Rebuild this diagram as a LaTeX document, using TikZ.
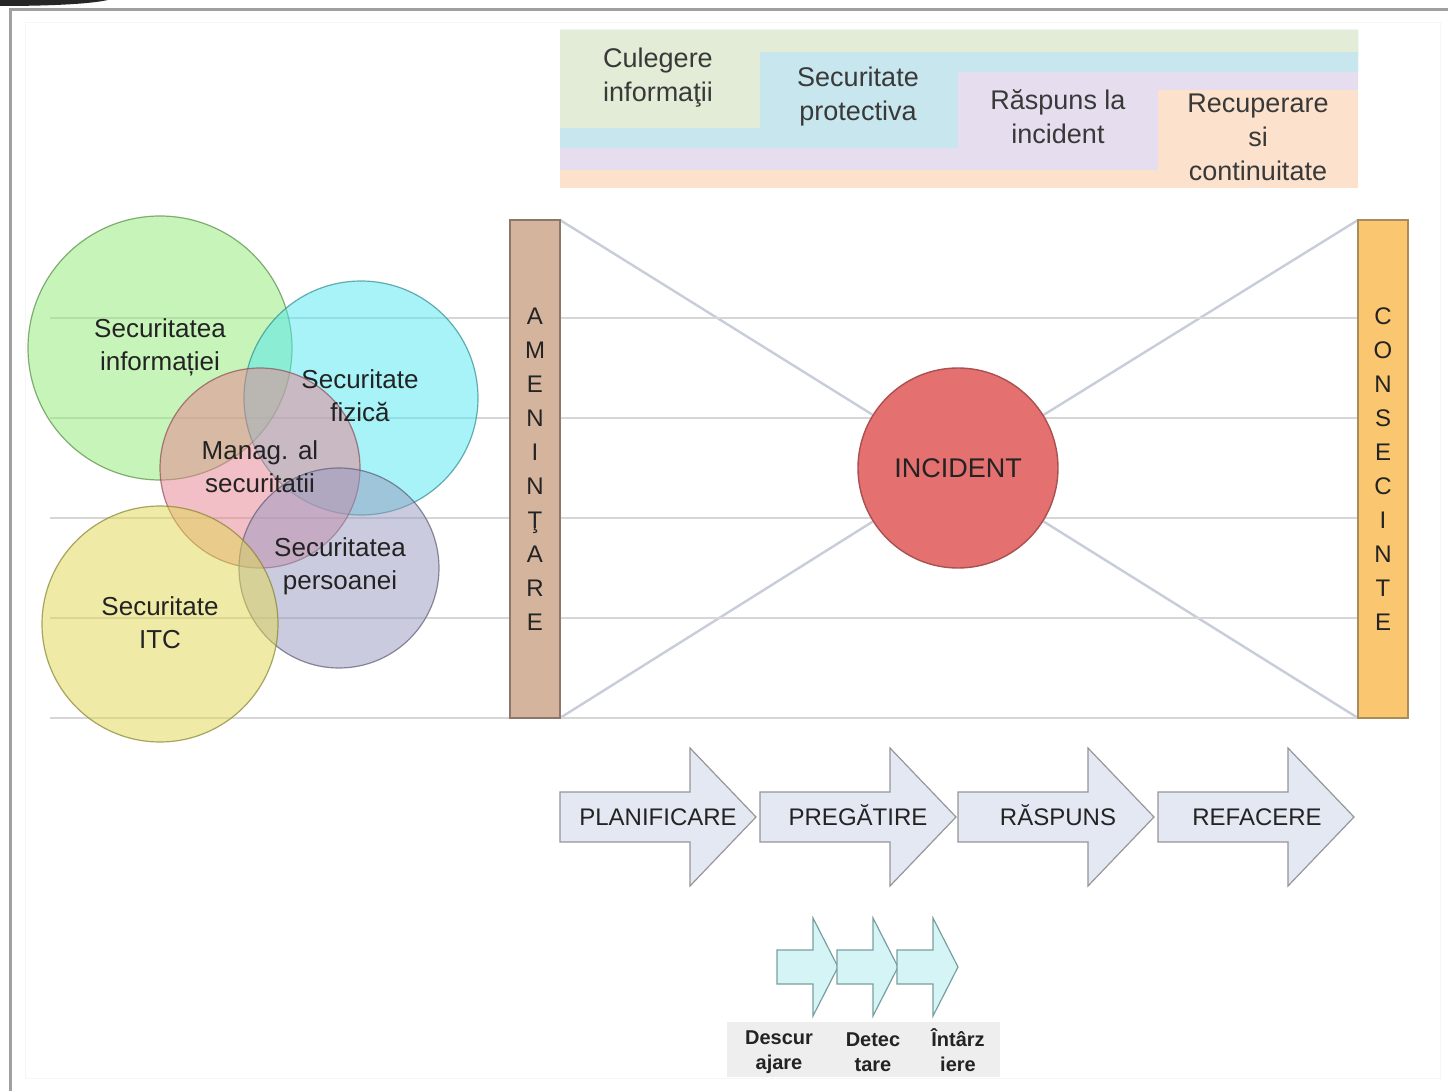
\documentclass[tikz,border=0pt]{standalone}
\usepackage{fontspec}
\setmainfont{Liberation Sans}
\usetikzlibrary{backgrounds}
\definecolor{framecol}{RGB}{160,160,160}
\definecolor{faintcol}{RGB}{246,246,246}
\definecolor{hlinecol}{RGB}{214,214,214}
\definecolor{diagcol}{RGB}{200,205,218}
\definecolor{bandgreen}{RGB}{226,236,214}
\definecolor{bandblue}{RGB}{200,230,238}
\definecolor{bandlav}{RGB}{230,222,238}
\definecolor{bandorange}{RGB}{252,226,204}
\definecolor{amencol}{RGB}{212,180,156}
\definecolor{amenborder}{RGB}{140,120,105}
\definecolor{conscol}{RGB}{250,198,112}
\definecolor{consborder}{RGB}{170,140,90}
\definecolor{inccol}{RGB}{228,112,112}
\definecolor{incborder}{RGB}{170,80,80}
\definecolor{infocol}{RGB}{145,235,115}
\definecolor{fizcol}{RGB}{81,233,241}
\definecolor{managcol}{RGB}{233,129,145}
\definecolor{perscol}{RGB}{153,153,193}
\definecolor{itccol}{RGB}{225,217,81}
\definecolor{bigarrfill}{RGB}{228,232,243}
\definecolor{bigarrborder}{RGB}{150,150,155}
\definecolor{smallarrfill}{RGB}{212,244,246}
\definecolor{smallarrborder}{RGB}{120,160,160}
\definecolor{labelbox}{RGB}{238,238,238}
\definecolor{txt}{RGB}{35,35,35}
\begin{document}
\begin{tikzpicture}[x=0.5pt,y=-0.5pt,
  venn/.style={circle,draw=#1!60!black,line width=0.6pt,fill=#1,fill opacity=0.5,draw opacity=0.7,inner sep=0pt,outer sep=0pt},
  vlabel/.style={align=center,text=txt,font=\fontsize{13}{16.5}\selectfont,inner sep=0pt},
  bandlabel/.style={align=center,text=txt!90,font=\fontsize{13.5}{17}\selectfont,inner sep=0pt},
  bar/.style={rectangle,line width=0.8pt,minimum width=25pt,minimum height=249pt,inner sep=0pt,outer sep=0pt,align=center,text=txt,font=\fontsize{12}{17}\selectfont},
  diag/.style={draw=diagcol,line width=1.2pt},
  hline/.style={draw=hlinecol,line width=1pt},
  arrlabel/.style={text=txt,font=\fontsize{12}{14}\selectfont,inner sep=0pt,text height=8.6pt,text depth=0pt},
  smalllabel/.style={align=center,text=txt,font=\bfseries\fontsize{10}{12.5}\selectfont,inner sep=0pt},
  bigarrowshape/.style={fill=bigarrfill,draw=bigarrborder,line width=0.6pt,line join=miter},
  smallarrowshape/.style={fill=smallarrfill,draw=smallarrborder,line width=0.6pt,line join=miter},
  bigarr/.pic={\path[bigarrowshape] (0,-25) -- (130,-25) -- (130,-69) -- (196,0) -- (130,69) -- (130,25) -- (0,25) -- cycle;},
  smallarr/.pic={\path[smallarrowshape] (0,-17) -- (36,-17) -- (36,-49) -- (61,0) -- (36,49) -- (36,17) -- (0,17) -- cycle;}
]
\useasboundingbox (0,0) rectangle (1448,1091);

% frame
\draw[faintcol,line width=0.5pt] (25,1078) -- (25,23) -- (1440,23) -- (1440,1078) -- cycle;
\draw[framecol,line width=1.5pt] (10,1091) -- (10,10) -- (1448,10);
\fill[black!85] (0,0) -- (108,0) .. controls (90,4) and (50,6) .. (0,6) -- cycle;

% top band
\fill[bandorange] (560,30) rectangle (1358,188);
\fill[bandlav] (560,30) -- (1358,30) -- (1358,90) -- (1158,90) -- (1158,170) -- (560,170) -- cycle;
\fill[bandblue] (560,30) -- (1358,30) -- (1358,72) -- (958,72) -- (958,148) -- (560,148) -- cycle;
\fill[bandgreen] (560,30) -- (1358,30) -- (1358,52) -- (760,52) -- (760,128) -- (560,128) -- cycle;
\node[bandlabel] (culeg) at (658,78) {Culegere\\informaţii};
\node[bandlabel] (protect) at (858,97) {Securitate\\protectiva};
\node[bandlabel] (raspinc) at (1058,117) {Răspuns la\\incident};
\node[bandlabel] (recup) at (1258,137) {Recuperare\\si\\continuitate};

% horizontal guide lines
\foreach \yy in {318,418,518,618,718} \draw[hline] (50,\yy) -- (1358,\yy);

% Venn circles
\node[venn=infocol, minimum size=132pt] (cinfo) at (160,348) {};
\node[venn=fizcol, minimum size=117pt] (cfiz) at (361,398) {};
\node[venn=managcol, minimum size=100pt] (cmanag) at (260,468) {};
\node[venn=perscol, minimum size=100pt] (cpers) at (339,568) {};
\node[venn=itccol, minimum size=118pt] (citc) at (160,624) {};
\node[vlabel] (tinfo) at (160,347) {Securitatea\\informației};
\node[vlabel] (tfiz) at (360,396) {Securitate\\fizică};
\node[vlabel] (tmanag) at (260,467) {Manag. al\\securitatii};
\node[vlabel] (tpers) at (340,566) {Securitatea\\persoanei};
\node[vlabel] (titc) at (160,623) {Securitate\\ITC};

% bars and incident
\node[bar, fill=amencol, draw=amenborder] (amen) at (535,469) {A\\M\\E\\N\\I\\N\\Ţ\\A\\R\\E};
\node[bar, fill=conscol, draw=consborder] (cons) at (1383,469) {C\\O\\N\\S\\E\\C\\I\\N\\T\\E};
\node[circle, fill=inccol, draw=incborder, line width=0.7pt, minimum size=100pt, inner sep=0pt, text=txt, font=\fontsize{13.5}{16}\selectfont] (inc) at (958,468) {INCIDENT};

\begin{scope}[on background layer]
\fill[white] (0,0) rectangle (1448,1091);
\draw[diag] (amen.north east) -- (inc);
\draw[diag] (amen.south east) -- (inc);
\draw[diag] (inc) -- (cons.north west);
\draw[diag] (inc) -- (cons.south west);
\end{scope}

% phase arrows
\pic at (560,817) {bigarr};
\pic at (760,817) {bigarr};
\pic at (958,817) {bigarr};
\pic at (1158,817) {bigarr};
\node[arrlabel] (planif) at (658,817) {PLANIFICARE};
\node[arrlabel] (pregat) at (858,817) {PREGĂTIRE};
\node[arrlabel] (raspuns) at (1058,817) {RĂSPUNS};
\node[arrlabel] (refac) at (1257,817) {REFACERE};

% small arrows
\fill[labelbox] (727,1022) rectangle (1000,1077);
\pic at (777,967) {smallarr};
\pic at (837,967) {smallarr};
\pic at (897,967) {smallarr};
\node[smalllabel] (descur) at (779,1052) {Descur\\ajare};
\node[smalllabel] (detec) at (873,1052) {Detec\\tare};
\node[smalllabel] (intarz) at (958,1050) {Întârz\\iere};
\end{tikzpicture}
\end{document}
